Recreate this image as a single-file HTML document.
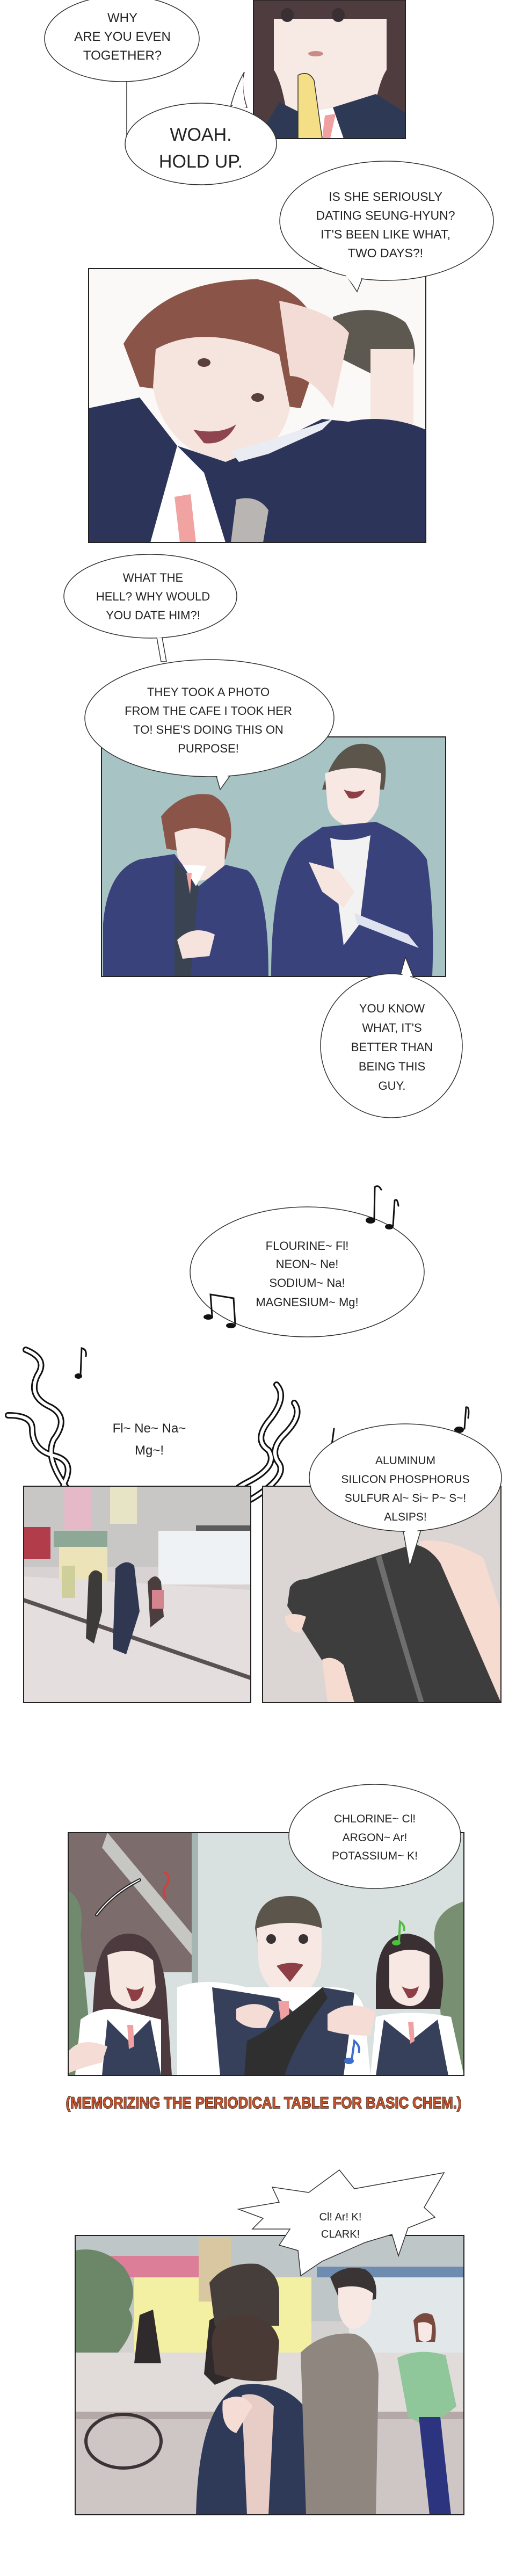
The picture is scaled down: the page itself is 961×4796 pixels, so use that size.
<!DOCTYPE html>
<html><head><meta charset="utf-8"><style>
html,body{margin:0;padding:0;background:#fff;}
svg{display:block;}
text{font-family:"Liberation Sans",sans-serif;fill:#222;}
</style></head><body>
<svg width="961" height="4796" viewBox="0 0 961 4796" xmlns="http://www.w3.org/2000/svg">
<rect width="961" height="4796" fill="#fff"/>

<!-- Panel 1: girl -->
<g>
<clipPath id="c1"><rect x="472" y="0" width="283" height="258"/></clipPath>
<g clip-path="url(#c1)">
<rect x="472" y="0" width="283" height="258" fill="#fdfbfa"/>
<path d="M472 0 H755 V258 H472 Z" fill="#4e3c3f"/>
<path d="M510 0 H720 V130 Q700 160 690 258 H540 Q530 160 510 130 Z" fill="#f7e9e3"/>
<rect x="500" y="0" width="230" height="35" fill="#4e3c3f"/>
<ellipse cx="535" cy="28" rx="12" ry="13" fill="#3a3033"/>
<ellipse cx="630" cy="28" rx="12" ry="13" fill="#3a3033"/>
<ellipse cx="588" cy="100" rx="14" ry="5" fill="#c98b86"/>
<path d="M480 258 L520 190 L560 210 L620 200 L700 175 L755 210 V258 Z" fill="#2e3a55"/>
<path d="M560 210 L620 200 L640 258 H600 Z" fill="#fff"/>
<path d="M605 215 L625 212 L615 258 H600 Z" fill="#f0a0a0"/>
<path d="M555 140 Q575 130 585 150 L600 258 H555 Z" fill="#f5df86" stroke="#333" stroke-width="1.5"/>
</g>
<rect x="472" y="0" width="283" height="258" fill="none" stroke="#222" stroke-width="2"/>
</g>

<!-- WHY bubble -->
<ellipse cx="227" cy="72" rx="144" ry="80" fill="#fff" stroke="#333" stroke-width="1.5"/>
<line x1="236" y1="152" x2="236" y2="255" stroke="#333" stroke-width="1.5"/>
<g font-size="24" text-anchor="middle">
<text x="228" y="41">WHY</text>
<text x="228" y="76">ARE YOU EVEN</text>
<text x="228" y="111">TOGETHER?</text>
</g>

<!-- WOAH bubble -->
<path d="M430 196 Q440 160 455 134 Q448 165 460 200 Z" fill="#fff" stroke="#333" stroke-width="1.5"/>
<ellipse cx="374" cy="268" rx="141" ry="76" fill="#fff" stroke="#333" stroke-width="1.5"/>
<path d="M432 199 Q448 170 455 138 Q450 170 458 200" fill="#fff"/>
<g font-size="34" text-anchor="middle">
<text x="374" y="262">WOAH.</text>
<text x="374" y="312">HOLD UP.</text>
</g>

<!-- Panel 2 -->
<g>
<clipPath id="c2"><rect x="165" y="500" width="628" height="510"/></clipPath>
<g clip-path="url(#c2)">
<rect x="165" y="500" width="628" height="510" fill="#fbf8f8"/>
<!-- back boy -->
<path d="M620 590 Q700 560 755 600 Q780 640 770 680 L700 700 L620 660 Z" fill="#5d5950"/>
<path d="M690 650 H770 V790 Q730 800 690 780 Z" fill="#f6e6df"/>
<path d="M600 800 Q700 760 793 800 V1010 H600 Z" fill="#2c3559"/>
<!-- main boy -->
<path d="M230 640 Q300 520 480 520 Q580 540 600 640 L560 760 L260 720 Z" fill="#8a5548"/>
<path d="M290 650 Q380 600 520 660 L540 760 Q520 860 400 860 Q300 820 285 720 Z" fill="#f6e4de"/>
<path d="M520 560 Q620 580 650 620 L620 760 Q580 700 540 700 Z" fill="#f4dcd6"/>
<ellipse cx="380" cy="675" rx="12" ry="8" fill="#5b3f3a"/>
<ellipse cx="480" cy="740" rx="12" ry="8" fill="#5b3f3a"/>
<path d="M360 800 Q410 810 440 790 Q420 830 380 825 Z" fill="#8f4550"/>
<path d="M165 760 L260 740 L330 830 L420 860 L520 820 L600 780 L793 800 V1010 H165 Z" fill="#2c3559"/>
<path d="M330 830 L380 880 L420 1010 H280 Z" fill="#fff"/>
<path d="M325 925 L355 920 L365 1010 H335 Z" fill="#f0a3a0"/>
<path d="M440 930 Q480 920 500 950 L490 1010 H430 Z" fill="#b8b5b3"/>
<path d="M430 840 L500 820 L620 780 L600 800 L500 845 L445 860 Z" fill="#e9ecf3"/>
</g>
<rect x="165" y="500" width="628" height="510" fill="none" stroke="#222" stroke-width="2"/>
</g>

<!-- IS SHE bubble -->
<path d="M640 505 L665 543 L680 505 Z" fill="#fff" stroke="#333" stroke-width="1.5"/>
<ellipse cx="720" cy="411" rx="199" ry="111" fill="#fff" stroke="#333" stroke-width="1.5"/>
<path d="M643 512 L664 538 L676 510 Z" fill="#fff"/>
<g font-size="23" text-anchor="middle">
<text x="718" y="374">IS SHE SERIOUSLY</text>
<text x="718" y="409">DATING SEUNG-HYUN?</text>
<text x="718" y="444">IT'S BEEN LIKE WHAT,</text>
<text x="718" y="479">TWO DAYS?!</text>
</g>

<!-- Panel 3 -->
<g>
<clipPath id="c3"><rect x="189" y="1372" width="641" height="446"/></clipPath>
<g clip-path="url(#c3)">
<rect x="189" y="1372" width="641" height="446" fill="#a8c3c3"/>
<!-- left boy -->
<path d="M300 1520 Q340 1470 395 1480 Q435 1500 430 1560 L420 1600 L310 1580 Z" fill="#8a5548"/>
<path d="M325 1550 Q370 1530 420 1560 L418 1610 Q400 1640 365 1640 Q335 1620 330 1590 Z" fill="#f6e4de"/>
<path d="M192 1720 Q200 1620 260 1600 L325 1590 L370 1650 L420 1610 L460 1620 Q500 1650 500 1818 H192 Z" fill="#39427a"/>
<path d="M325 1600 L370 1650 L355 1818 H325 Z" fill="#3a4352"/>
<path d="M340 1610 L365 1650 L385 1612 Z" fill="#fff"/>
<path d="M347 1625 L357 1625 L354 1665 Z" fill="#f0a3a0"/>
<path d="M330 1750 Q360 1720 400 1740 L390 1780 L340 1785 Z" fill="#f7e3de"/>
<!-- right boy -->
<path d="M600 1470 Q625 1380 680 1385 Q730 1390 715 1470 Z" fill="#5b554c"/>
<path d="M605 1440 Q660 1420 710 1440 L705 1500 Q690 1540 655 1540 Q615 1530 610 1500 Z" fill="#f7e8e3"/>
<path d="M640 1470 Q660 1478 680 1470 Q670 1490 650 1486 Z" fill="#8e3f45"/>
<path d="M505 1818 Q505 1600 570 1560 L600 1540 L700 1530 Q770 1560 795 1600 Q810 1700 805 1818 Z" fill="#39427a"/>
<path d="M615 1560 Q650 1570 690 1555 L670 1720 L640 1760 Z" fill="#f2f2f2"/>
<path d="M575 1605 L630 1620 L660 1660 L640 1690 L600 1660 Z" fill="#f7e6df"/>
<path d="M660 1700 L760 1740 L780 1765 L665 1720 Z" fill="#dfe3f0"/>
</g>
<rect x="189" y="1372" width="641" height="446" fill="none" stroke="#222" stroke-width="2"/>
</g>

<!-- WHAT THE HELL bubble -->
<ellipse cx="280" cy="1110" rx="161" ry="78" fill="#fff" stroke="#333" stroke-width="1.5"/>
<path d="M292 1187 L300 1232 L310 1232 L302 1187" fill="#fff" stroke="#333" stroke-width="1.5"/>
<g font-size="22" text-anchor="middle">
<text x="285" y="1083">WHAT THE</text>
<text x="285" y="1118">HELL? WHY WOULD</text>
<text x="285" y="1153">YOU DATE HIM?!</text>
</g>

<!-- THEY TOOK bubble -->
<path d="M400 1435 L410 1470 L435 1435 Z" fill="#fff" stroke="#333" stroke-width="1.5"/>
<ellipse cx="390" cy="1337" rx="232" ry="109" fill="#fff" stroke="#333" stroke-width="1.5"/>
<path d="M403 1440 L410 1464 L428 1440 Z" fill="#fff"/>
<g font-size="22" text-anchor="middle">
<text x="388" y="1296">THEY TOOK A PHOTO</text>
<text x="388" y="1331">FROM THE CAFE I TOOK HER</text>
<text x="388" y="1366">TO! SHE'S DOING THIS ON</text>
<text x="388" y="1401">PURPOSE!</text>
</g>

<!-- YOU KNOW bubble -->
<path d="M745 1818 L755 1782 L775 1832 Z" fill="#fff" stroke="#333" stroke-width="1.5"/>
<ellipse cx="729" cy="1947" rx="132" ry="134" fill="#fff" stroke="#333" stroke-width="1.5"/>
<path d="M748 1822 L755 1790 L768 1830 Z" fill="#fff"/>
<g font-size="22" text-anchor="middle">
<text x="730" y="1885">YOU KNOW</text>
<text x="730" y="1921">WHAT, IT'S</text>
<text x="730" y="1957">BETTER THAN</text>
<text x="730" y="1993">BEING THIS</text>
<text x="730" y="2029">GUY.</text>
</g>

<!-- FLOURINE bubble -->
<ellipse cx="572" cy="2368" rx="218" ry="121" fill="#fff" stroke="#333" stroke-width="1.5"/>
<g font-size="22" text-anchor="middle">
<text x="572" y="2327">FLOURINE~ Fl!</text>
<text x="572" y="2361">NEON~ Ne!</text>
<text x="572" y="2396">SODIUM~ Na!</text>
<text x="572" y="2432">MAGNESIUM~ Mg!</text>
</g>
<g fill="#111" stroke="#111" stroke-width="3" stroke-linecap="round">
<path d="M697 2270 L698 2210 Q705 2205 710 2215" fill="none"/>
<ellipse cx="690" cy="2272" rx="9" ry="6" stroke="none"/>
<path d="M732 2282 L735 2235 Q740 2230 742 2245" fill="none"/>
<ellipse cx="725" cy="2284" rx="8" ry="5" stroke="none"/>
<path d="M395 2450 L392 2410 L435 2417 L438 2465" fill="none"/>
<ellipse cx="388" cy="2452" rx="9" ry="5" stroke="none"/>
<ellipse cx="430" cy="2468" rx="9" ry="5" stroke="none"/>
<path d="M150 2560 L152 2510 Q162 2512 160 2525" fill="none"/>
<ellipse cx="146" cy="2562" rx="7" ry="5" stroke="none"/>
<path d="M865 2660 L868 2620 Q875 2618 872 2640" fill="none"/>
<ellipse cx="855" cy="2662" rx="9" ry="6" stroke="none"/>
<path d="M618 2690 L622 2660" fill="none"/>
</g>

<!-- wavy lines -->
<g fill="none" stroke="#111" stroke-width="12" stroke-linecap="round">
<path d="M48 2513 Q90 2530 70 2560 Q50 2600 95 2620 Q130 2640 100 2680 Q80 2720 140 2790"/>
<path d="M15 2635 Q60 2635 60 2660 Q60 2700 100 2710 Q140 2720 120 2760 Q110 2790 135 2800"/>
<path d="M515 2578 Q535 2600 505 2640 Q470 2680 500 2700 Q520 2730 460 2760 Q420 2780 410 2820"/>
<path d="M548 2612 Q565 2635 530 2670 Q500 2700 520 2725 Q535 2750 470 2790 Q430 2810 420 2830"/>
</g>
<g fill="none" stroke="#fff" stroke-width="6" stroke-linecap="round">
<path d="M48 2513 Q90 2530 70 2560 Q50 2600 95 2620 Q130 2640 100 2680 Q80 2720 140 2790"/>
<path d="M15 2635 Q60 2635 60 2660 Q60 2700 100 2710 Q140 2720 120 2760 Q110 2790 135 2800"/>
<path d="M515 2578 Q535 2600 505 2640 Q470 2680 500 2700 Q520 2730 460 2760 Q420 2780 410 2820"/>
<path d="M548 2612 Q565 2635 530 2670 Q500 2700 520 2725 Q535 2750 470 2790 Q430 2810 420 2830"/>
</g>
<g font-size="24" text-anchor="middle">
<text x="278" y="2667">Fl~ Ne~ Na~</text>
<text x="278" y="2708">Mg~!</text>
</g>

<!-- Panel 4a: street -->
<g>
<clipPath id="c4"><rect x="44" y="2767" width="423" height="403"/></clipPath>
<g clip-path="url(#c4)">
<rect x="44" y="2767" width="423" height="403" fill="#d9d2d2"/>
<rect x="44" y="2767" width="423" height="150" fill="#c9c6c6"/>
<rect x="120" y="2767" width="50" height="80" fill="#e6b9c8"/>
<rect x="205" y="2767" width="50" height="70" fill="#e6e4c4"/>
<rect x="44" y="2843" width="50" height="60" fill="#b33c4a"/>
<rect x="100" y="2850" width="100" height="30" fill="#8ea898"/>
<rect x="110" y="2880" width="90" height="65" fill="#ece4b8"/>
<rect x="295" y="2850" width="172" height="100" fill="#eef2f5"/>
<rect x="365" y="2840" width="102" height="10" fill="#5c5c5c"/>
<path d="M44 2935 L467 2960 V3170 H44 Z" fill="#e4dede"/>
<path d="M44 2975 L467 3120 L467 3128 L44 2983 Z" fill="#5a5252"/>
<path d="M215 2920 Q235 2900 250 2915 L260 3000 L235 3080 L210 3070 Z" fill="#2f3850"/>
<path d="M165 2935 Q175 2915 190 2930 L190 3000 L175 3060 L160 3050 Z" fill="#3d3a3a"/>
<path d="M275 2945 Q290 2925 300 2945 L305 3010 L280 3030 Z" fill="#4b3e3e"/>
<rect x="283" y="2960" width="22" height="35" fill="#d4848f"/>
<rect x="115" y="2915" width="25" height="60" fill="#cfcf9c"/>
</g>
<rect x="44" y="2767" width="423" height="403" fill="none" stroke="#222" stroke-width="2"/>
</g>

<!-- Panel 4b: phone -->
<g>
<clipPath id="c5"><rect x="489" y="2767" width="444" height="403"/></clipPath>
<g clip-path="url(#c5)">
<rect x="489" y="2767" width="444" height="403" fill="#dbd5d3"/>
<path d="M780 2870 Q830 2860 900 2900 L933 3000 V3170 H860 Z" fill="#f5dbd0"/>
<path d="M540 2955 Q550 2940 570 2940 L770 2875 Q800 2880 820 2910 L933 3170 H650 L535 2990 Z" fill="#3d3d3d"/>
<path d="M700 2900 Q740 3040 780 3170 L790 3170 Q750 3040 710 2895 Z" fill="#6e6e6e"/>
<path d="M530 3010 Q545 3000 570 3010 L560 3040 Q535 3040 530 3010 Z" fill="#f5dbd0"/>
<path d="M600 3090 Q620 3080 640 3100 L660 3170 H610 Z" fill="#f5dbd0"/>
</g>
<rect x="489" y="2767" width="444" height="403" fill="none" stroke="#222" stroke-width="2"/>
</g>

<!-- ALUMINUM bubble -->
<path d="M750 2845 L763 2917 L785 2845 Z" fill="#fff" stroke="#333" stroke-width="1.5"/>
<ellipse cx="755" cy="2751" rx="179" ry="100" fill="#fff" stroke="#333" stroke-width="1.5"/>
<path d="M753 2840 L763 2905 L780 2840 Z" fill="#fff"/>
<g font-size="21" text-anchor="middle">
<text x="755" y="2726">ALUMINUM</text>
<text x="755" y="2761">SILICON PHOSPHORUS</text>
<text x="755" y="2796">SULFUR Al~ Si~ P~ S~!</text>
<text x="755" y="2831">ALSIPS!</text>
</g>

<!-- Panel 5 -->
<g>
<clipPath id="c6"><rect x="127" y="3412" width="737" height="452"/></clipPath>
<g clip-path="url(#c6)">
<rect x="127" y="3412" width="737" height="452" fill="#d9e0e0"/>
<rect x="127" y="3412" width="230" height="260" fill="#7c6c6c"/>
<path d="M200 3412 L357 3600 L357 3640 L190 3440 Z" fill="#c6c6c2"/>
<rect x="357" y="3412" width="12" height="452" fill="#a7b5b3"/>
<path d="M127 3520 Q160 3540 150 3600 L175 3864 H127 Z" fill="#6f8a6c"/>
<path d="M864 3540 Q800 3560 810 3620 L830 3864 H864 Z" fill="#788f72"/>
<!-- left girl -->
<path d="M175 3710 Q180 3600 240 3600 Q300 3600 310 3710 L320 3864 H165 Z" fill="#4d3a3e"/>
<path d="M200 3640 Q250 3620 285 3650 L290 3700 Q280 3740 245 3740 Q205 3730 205 3700 Z" fill="#f7e7e1"/>
<path d="M235 3700 Q255 3710 268 3698 Q262 3730 245 3725 Z" fill="#8e3f45"/>
<path d="M150 3760 Q190 3730 240 3745 L300 3760 L300 3864 H140 Z" fill="#fff"/>
<path d="M200 3760 L240 3800 L280 3760 L300 3864 H190 Z" fill="#36405a"/>
<path d="M237 3770 L248 3770 L250 3810 L240 3815 Z" fill="#f0a0a0"/>
<path d="M127 3820 Q150 3790 200 3810 L190 3840 Q150 3850 127 3860 Z" fill="#f5ddd5"/>
<!-- boy -->
<path d="M475 3590 Q480 3530 540 3530 Q600 3530 600 3600 L595 3620 H480 Z" fill="#5b554c"/>
<path d="M478 3590 Q540 3570 600 3590 L598 3660 Q580 3720 540 3720 Q495 3710 482 3660 Z" fill="#f7e8e3"/>
<ellipse cx="505" cy="3610" rx="9" ry="9" fill="#3a3333"/>
<ellipse cx="565" cy="3610" rx="9" ry="9" fill="#3a3333"/>
<path d="M515 3660 Q540 3650 565 3658 L540 3690 Z" fill="#8e3f45"/>
<path d="M330 3700 Q380 3680 460 3700 L620 3700 Q680 3700 680 3760 L690 3864 H330 Z" fill="#fff"/>
<path d="M395 3700 L520 3720 L560 3760 L600 3700 L660 3710 L640 3864 H410 Z" fill="#36405a"/>
<path d="M518 3725 L538 3725 L540 3790 L528 3800 Z" fill="#f0a0a0"/>
<path d="M455 3864 L460 3800 Q520 3770 600 3700 L610 3720 Q550 3800 530 3864 Z" fill="#2f2f2f"/>
<path d="M440 3740 Q480 3720 510 3745 L495 3775 Q460 3780 440 3760 Z" fill="#f5ddd5"/>
<path d="M610 3750 Q650 3720 700 3745 L690 3790 Q640 3790 610 3780 Z" fill="#f5ddd5"/>
<!-- right girl -->
<path d="M700 3700 Q700 3600 760 3600 Q830 3610 825 3700 L820 3740 H700 Z" fill="#3a3033"/>
<path d="M725 3640 Q765 3620 800 3640 L800 3700 Q790 3735 762 3735 Q728 3730 725 3700 Z" fill="#f7e8e3"/>
<path d="M748 3698 Q765 3708 780 3698 Q775 3722 760 3720 Z" fill="#8e3f45"/>
<path d="M700 3755 Q760 3740 840 3755 L864 3864 H690 Z" fill="#fff"/>
<path d="M715 3760 L765 3800 L815 3760 L835 3864 H700 Z" fill="#36405a"/>
<path d="M760 3765 L770 3765 L772 3800 L764 3805 Z" fill="#f0a0a0"/>
</g>
<rect x="127" y="3412" width="737" height="452" fill="none" stroke="#222" stroke-width="2"/>
<path d="M180 3565 Q210 3525 260 3500" fill="none" stroke="#222" stroke-width="6" stroke-linecap="round"/>
<path d="M180 3565 Q210 3525 260 3500" fill="none" stroke="#fff" stroke-width="2" stroke-linecap="round"/>
<path d="M743 3615 L745 3578 Q755 3585 752 3595" fill="none" stroke="#4fbf3f" stroke-width="4"/>
<ellipse cx="738" cy="3617" rx="8" ry="5" fill="#4fbf3f"/>
<path d="M655 3835 L660 3800 Q672 3810 668 3822" fill="none" stroke="#3d6ec9" stroke-width="4"/>
<ellipse cx="650" cy="3837" rx="9" ry="6" fill="#3d6ec9"/>
<path d="M305 3485 Q320 3490 310 3510 Q300 3525 310 3535" fill="none" stroke="#d04040" stroke-width="4"/>
</g>

<!-- CHLORINE bubble -->
<ellipse cx="698" cy="3419" rx="160" ry="97" fill="#fff" stroke="#333" stroke-width="1.5"/>
<g font-size="21" text-anchor="middle">
<text x="698" y="3393">CHLORINE~ Cl!</text>
<text x="698" y="3428">ARGON~ Ar!</text>
<text x="698" y="3462">POTASSIUM~ K!</text>
</g>

<!-- Caption -->
<text x="491" y="3925" font-size="30" font-weight="bold" text-anchor="middle" textLength="737" lengthAdjust="spacingAndGlyphs" style="fill:#c0542e;stroke:#3a1a10;stroke-width:1.5;paint-order:stroke;">(MEMORIZING THE PERIODICAL TABLE FOR BASIC CHEM.)</text>

<!-- Panel 6 -->
<g>
<clipPath id="c7"><rect x="140" y="4162" width="724" height="520"/></clipPath>
<g clip-path="url(#c7)">
<rect x="140" y="4162" width="724" height="520" fill="#d4d2d0"/>
<rect x="140" y="4162" width="724" height="160" fill="#bfc6c8"/>
<rect x="140" y="4200" width="240" height="40" fill="#dc7e98"/>
<rect x="250" y="4240" width="330" height="140" fill="#f3f0a4"/>
<rect x="370" y="4165" width="60" height="120" fill="#d9c7a2"/>
<rect x="590" y="4220" width="274" height="20" fill="#6d8cb0"/>
<rect x="650" y="4240" width="214" height="160" fill="#e2e8ea"/>
<path d="M140 4190 Q190 4180 230 4220 Q260 4260 240 4300 Q260 4330 220 4380 L140 4400 Z" fill="#6c8768"/>
<rect x="140" y="4380" width="724" height="110" fill="#e1dcda"/>
<rect x="140" y="4490" width="724" height="14" fill="#b4a9a6"/>
<rect x="140" y="4504" width="724" height="178" fill="#cdc6c4"/>
<ellipse cx="230" cy="4545" rx="70" ry="50" fill="none" stroke="#3b3436" stroke-width="6"/>
<path d="M390 4320 Q420 4300 440 4330 L450 4420 L400 4440 L380 4420 Z" fill="#2f2a2b"/>
<path d="M260 4310 L285 4300 L300 4400 L250 4400 Z" fill="#2f2a2b"/>
<!-- front girl back view -->
<path d="M390 4250 Q420 4210 480 4215 Q520 4230 520 4270 L520 4330 H400 Z" fill="#463e3b"/>
<path d="M395 4370 Q390 4320 440 4310 Q510 4310 520 4360 L515 4430 Q470 4440 400 4420 Z" fill="#4a3a36"/>
<path d="M365 4682 Q370 4470 450 4440 Q540 4430 580 4500 L620 4682 Z" fill="#2f3a58"/>
<path d="M450 4460 Q480 4450 510 4480 L500 4682 H460 Z" fill="#e8cdc6"/>
<path d="M415 4470 Q450 4450 470 4480 L440 4530 Q410 4520 415 4470 Z" fill="#f5ddd5"/>
<!-- boy right -->
<path d="M615 4240 Q640 4215 680 4225 Q705 4240 700 4280 L640 4300 Z" fill="#3a3435"/>
<path d="M630 4260 Q670 4250 695 4270 L690 4310 Q675 4340 650 4335 Q630 4320 630 4290 Z" fill="#f7e8e3"/>
<path d="M560 4380 Q600 4340 660 4345 Q700 4360 705 4420 L700 4682 H570 Z" fill="#8f8680"/>
<!-- girl far right -->
<path d="M770 4320 Q785 4300 805 4310 Q815 4330 810 4360 L775 4360 Z" fill="#7a4a3f"/>
<path d="M778 4325 Q795 4320 805 4330 L803 4355 Q790 4365 780 4355 Z" fill="#f7e8e3"/>
<path d="M740 4390 Q780 4370 830 4385 L850 4480 L800 4520 L760 4500 Z" fill="#8fc69a"/>
<path d="M780 4500 L820 4500 L840 4682 H800 Z" fill="#2c3480"/>
</g>
<rect x="140" y="4162" width="724" height="520" fill="none" stroke="#222" stroke-width="2"/>
</g>

<!-- spiky bubble -->
<path d="M444 4113 L520 4100 L507 4072 L575 4082 L632 4040 L660 4075 L827 4045 L790 4110 L810 4128 L760 4148 L742 4200 L730 4160 L680 4175 L600 4210 L560 4237 L555 4190 L520 4180 L540 4150 L470 4150 L490 4130 Z" fill="#fff" stroke="#333" stroke-width="1.5"/>
<g font-size="20" text-anchor="middle">
<text x="634" y="4134">Cl! Ar! K!</text>
<text x="634" y="4166">CLARK!</text>
</g>
</svg>
</body></html>
